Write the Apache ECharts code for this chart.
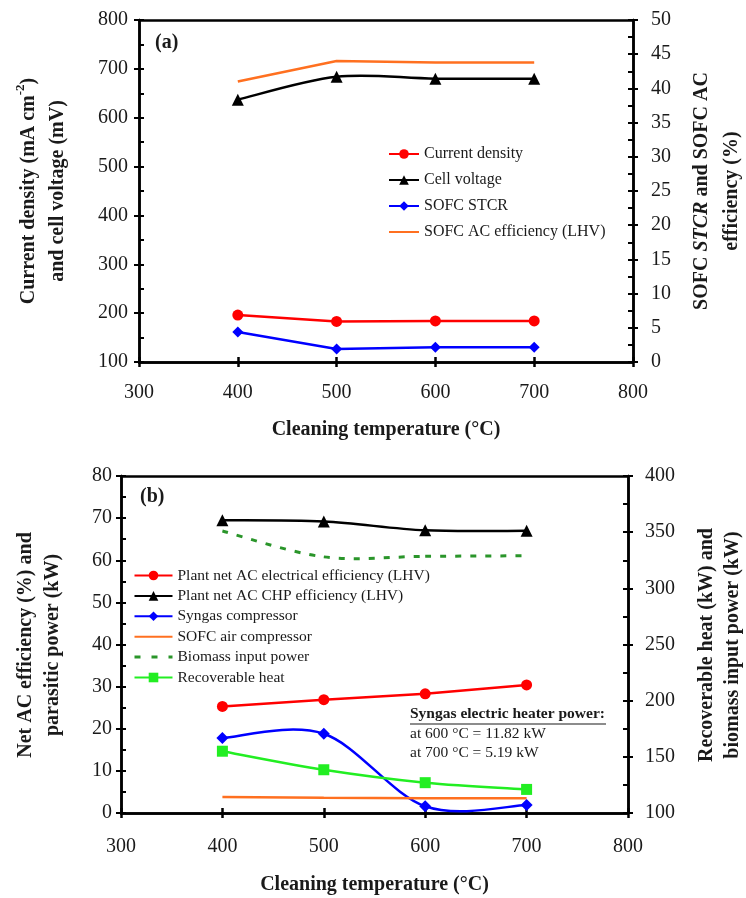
<!DOCTYPE html>
<html>
<head>
<meta charset="utf-8">
<script src="https://cdn.jsdelivr.net/npm/echarts@6/dist/echarts.min.js"></script>
<style>
html,body{margin:0;padding:0;background:#fff;}
#c{width:746px;height:898px;}
</style>
</head>
<body>
<div id="c"></div>
<script>
// ---- data ----
const temps = [400, 500, 600, 700];
const xTicks = [300, 400, 500, 600, 700, 800];
// panel (a)
const currentDensity = [196, 183, 184, 184];
const cellVoltage = [637, 684, 680, 680];
const sofcSTCR = [4.4, 1.9, 2.15, 2.15];
const sofcACEff = [41.0, 44.0, 43.8, 43.8];
// panel (b)
const plantNetElecEff = [25.3, 26.9, 28.3, 30.4];
const plantCHPEff = [69.5, 69.2, 67.1, 67.0];
const syngasComp = [17.8, 18.8, 1.6, 1.9];
const sofcAirComp = [3.8, 3.6, 3.5, 3.5];
const biomassInput = [351, 328, 328.5, 329];
const recoverableHeat = [155, 138.5, 127, 121];

const pair = (ys) => temps.map((t, i) => [t, ys[i]]);

const FONT = 'Liberation Serif';
const TXT = '#1a1a1a';
const AX = { color: '#000', width: 2.5 };

function xAxes(grid, labelMargin, nameGap) {
  return [
    { gridIndex: grid, type: 'value', position: 'bottom', min: 300, max: 800, interval: 100,
      axisLine: { onZero: false, lineStyle: AX },
      axisTick: { inside: false, length: 5, lineStyle: { color: '#000', width: 2.5 } },
      axisLabel: { margin: labelMargin, fontFamily: FONT, fontSize: 20, color: TXT },
      splitLine: { show: false },
      name: 'Cleaning temperature (°C)', nameLocation: 'middle', nameGap: nameGap,
      nameTextStyle: { fontFamily: FONT, fontSize: 20, fontWeight: 'bold', color: TXT } },
    { gridIndex: grid, type: 'value', position: 'bottom', min: 300, max: 800, interval: 100,
      axisLine: { onZero: false, lineStyle: AX },
      axisTick: { inside: true, length: 5, lineStyle: { color: '#000', width: 2.5 } },
      axisLabel: { show: false }, splitLine: { show: false } },
    { gridIndex: grid, type: 'value', position: 'top', min: 300, max: 800, interval: 100,
      axisLine: { onZero: false, lineStyle: AX },
      axisTick: { show: false }, axisLabel: { show: false }, splitLine: { show: false } }
  ];
}
function yAxes(grid, pos, min, max, interval, margin) {
  return [
    { gridIndex: grid, type: 'value', position: pos, min: min, max: max, interval: interval,
      axisLine: { show: true, onZero: false, lineStyle: AX },
      axisTick: { show: true, inside: false, length: 5, lineStyle: { color: '#000', width: 2 } },
      axisLabel: { margin: margin, fontFamily: FONT, fontSize: 20, color: TXT },
      splitLine: { show: false } },
    { gridIndex: grid, type: 'value', position: pos, min: min, max: max, interval: interval,
      axisLine: { show: true, onZero: false, lineStyle: AX },
      axisTick: { show: true, inside: true, length: 5, lineStyle: { color: '#000', width: 2 } },
      minorTick: { show: true, splitNumber: 2, length: 5, lineStyle: { color: '#000', width: 2 } },
      axisLabel: { show: false }, splitLine: { show: false }, minorSplitLine: { show: false } }
  ];
}

// straight line series (or markers-only when hideLine)
function ser(name, data, xi, yi, color, symbol, size, hideLine, extra) {
  return Object.assign({
    name: name, type: 'line', xAxisIndex: xi, yAxisIndex: yi, data: pair(data),
    symbol: symbol, symbolSize: size, showSymbol: symbol !== 'none', smooth: false, z: 3,
    lineStyle: { color: color, width: 2.5, opacity: hideLine ? 0 : 1 }, itemStyle: { color: color },
    animation: false
  }, extra || {});
}

// Excel-like smoothed curve (Catmull-Rom Bezier) through the data points, via the axes' scales
function curve(values, xi, yi, color, width, dash) {
  const n = temps.length;
  return {
    type: 'custom', xAxisIndex: xi, yAxisIndex: yi, clip: false, silent: true, z: 1,
    data: pair(values), encode: { x: 0, y: 1 }, animation: false,
    renderItem: function (params, api) {
      const i = params.dataIndex;
      if (i >= n - 1) return { type: 'group', children: [] };
      const P = temps.map((t, j) => api.coord([t, values[j]]));
      const p0 = P[Math.max(i - 1, 0)], p1 = P[i], p2 = P[i + 1], p3 = P[Math.min(i + 2, n - 1)];
      return {
        type: 'bezierCurve',
        shape: {
          x1: p1[0], y1: p1[1],
          cpx1: p1[0] + (p2[0] - p0[0]) / 6, cpy1: p1[1] + (p2[1] - p0[1]) / 6,
          cpx2: p2[0] - (p3[0] - p1[0]) / 6, cpy2: p2[1] - (p3[1] - p1[1]) / 6,
          x2: p2[0], y2: p2[1]
        },
        style: { stroke: color, lineWidth: width, fill: null, lineDash: dash || null }
      };
    }
  };
}

const chart = echarts.init(document.getElementById('c'), null, { renderer: 'canvas' });
const option = {
  backgroundColor: '#fff',
  animation: false,
  textStyle: { fontFamily: FONT },
  grid: [
    { left: 139, right: 113, top: 20, height: 342 },
    { left: 121, right: 118, top: 476, height: 337 }
  ],
  xAxis: [].concat(xAxes(0, 21, 58), xAxes(1, 24, 62)),
  yAxis: [].concat(
    yAxes(0, 'left', 100, 800, 100, 11),
    yAxes(0, 'right', 0, 50, 5, 18),
    yAxes(1, 'left', 0, 80, 10, 9),
    yAxes(1, 'right', 100, 400, 50, 17)
  ),
  legend: [
    { orient: 'vertical', left: 388, top: 146, padding: 0, itemWidth: 30, itemHeight: 12, itemGap: 10,
      textStyle: { fontFamily: FONT, fontSize: 16, lineHeight: 16, color: TXT },
      data: ['Current density',
             { name: 'Cell voltage', lineStyle: { opacity: 1 } },
             'SOFC STCR',
             { name: 'SOFC AC efficiency (LHV)', itemStyle: { opacity: 0 } }] },
    { orient: 'vertical', left: 133, top: 567.5, padding: 0, itemWidth: 38, itemHeight: 12, itemGap: 4.4,
      textStyle: { fontFamily: FONT, fontSize: 15.5, lineHeight: 15, color: TXT },
      data: ['Plant net AC electrical efficiency (LHV)',
             { name: 'Plant net AC CHP efficiency (LHV)', lineStyle: { opacity: 1 } },
             { name: 'Syngas compressor', lineStyle: { opacity: 1 } },
             { name: 'SOFC air compressor', itemStyle: { opacity: 0 } },
             { name: 'Biomass input power', itemStyle: { opacity: 0 }, lineStyle: { opacity: 1, type: [6, 11], width: 3 } },
             { name: 'Recoverable heat', lineStyle: { opacity: 1 } }] }
  ],
  series: [
    ser('Current density', currentDensity, 0, 0, '#ff0000', 'circle', 11, false),
    curve(cellVoltage, 0, 0, '#000000', 2.5),
    ser('Cell voltage', cellVoltage, 0, 0, '#000000', 'triangle', 12, true),
    ser('SOFC STCR', sofcSTCR, 0, 2, '#0000ff', 'diamond', 11, false),
    ser('SOFC AC efficiency (LHV)', sofcACEff, 0, 2, '#ff7020', 'none', 0, false),

    ser('Plant net AC electrical efficiency (LHV)', plantNetElecEff, 3, 4, '#ff0000', 'circle', 11, false),
    curve(plantCHPEff, 3, 4, '#000000', 2.5),
    ser('Plant net AC CHP efficiency (LHV)', plantCHPEff, 3, 4, '#000000', 'triangle', 12, true),
    curve(syngasComp, 3, 4, '#0000ff', 2.5),
    ser('Syngas compressor', syngasComp, 3, 4, '#0000ff', 'diamond', 12, true),
    ser('SOFC air compressor', sofcAirComp, 3, 4, '#ff7020', 'none', 0, false),
    curve(biomassInput, 3, 6, '#2a952a', 3, [6, 9]),
    ser('Biomass input power', biomassInput, 3, 6, '#2a952a', 'none', 0, true),
    curve(recoverableHeat, 3, 6, '#22ee22', 2.5),
    ser('Recoverable heat', recoverableHeat, 3, 6, '#22ee22', 'rect', 11, true)
  ],
  graphic: [
    { type: 'text', left: 155, top: 33, style: { text: '(a)', fontFamily: FONT, fontSize: 20, fontWeight: 'bold', fill: TXT } },
    { type: 'text', left: 140, top: 487, style: { text: '(b)', fontFamily: FONT, fontSize: 20, fontWeight: 'bold', fill: TXT } },
    // y-axis titles
    { type: 'text', x: 43, y: 191, rotation: Math.PI / 2,
      style: { text: '{b|Current density (mA cm}{s|-2}{b|)}\n{b|and cell voltage (mV)}', align: 'center', verticalAlign: 'middle',
        rich: { b: { fontFamily: FONT, fontSize: 20, fontWeight: 'bold', lineHeight: 29, fill: TXT, color: TXT },
                s: { fontFamily: FONT, fontSize: 13, fontWeight: 'bold', lineHeight: 29, verticalAlign: 'top', fill: TXT, color: TXT } } } },
    { type: 'text', x: 717, y: 191, rotation: Math.PI / 2,
      style: { text: '{b|SOFC }{i|STCR}{b| and SOFC AC}\n{b|efficiency (%)}', align: 'center', verticalAlign: 'middle',
        rich: { b: { fontFamily: FONT, fontSize: 20, fontWeight: 'bold', lineHeight: 30, fill: TXT, color: TXT },
                i: { fontFamily: FONT, fontSize: 20, fontWeight: 'bold', fontStyle: 'italic', lineHeight: 30, fill: TXT, color: TXT } } } },
    { type: 'text', x: 39, y: 645, rotation: Math.PI / 2,
      style: { text: 'Net AC efficiency (%) and\nparasitic power (kW)', align: 'center', verticalAlign: 'middle',
        fontFamily: FONT, fontSize: 20, fontWeight: 'bold', lineHeight: 27, fill: TXT } },
    { type: 'text', x: 720, y: 645, rotation: Math.PI / 2,
      style: { text: 'Recoverable heat (kW) and\nbiomass input power (kW)', align: 'center', verticalAlign: 'middle',
        fontFamily: FONT, fontSize: 20, fontWeight: 'bold', lineHeight: 26, fill: TXT } },
    // annotation
    { type: 'text', left: 410, top: 706, style: { text: 'Syngas electric heater power:', fontFamily: FONT, fontSize: 15.5, fontWeight: 'bold', fill: TXT } },
    { type: 'line', shape: { x1: 410, y1: 724, x2: 606, y2: 724 }, style: { stroke: TXT, lineWidth: 1.2 } },
    { type: 'text', left: 410, top: 726, style: { text: 'at 600 °C = 11.82 kW', fontFamily: FONT, fontSize: 15.5, fill: TXT } },
    { type: 'text', left: 410, top: 745, style: { text: 'at 700 °C = 5.19 kW', fontFamily: FONT, fontSize: 15.5, fill: TXT } }
  ]
};
chart.setOption(option);
</script>
</body>
</html>
